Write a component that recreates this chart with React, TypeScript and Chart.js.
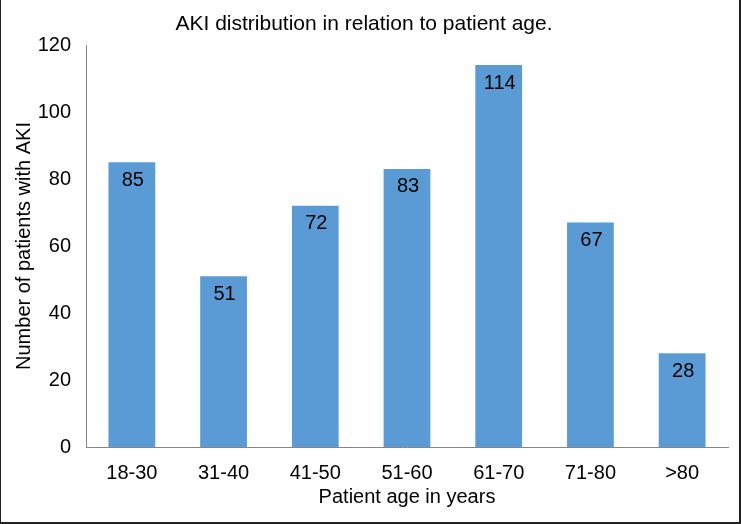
import React, { useEffect, useRef } from "react";
import { Chart, registerables } from "chart.js";

Chart.register(...registerables);

const categories = ["18-30", "31-40", "41-50", "51-60", "61-70", "71-80", ">80"];
const patients = [85, 51, 72, 83, 114, 67, 28];
const yTicks = [0, 20, 40, 60, 80, 100, 120];

const chartTitle = "AKI distribution in relation to patient age.";
const xTitle = "Patient age in years";
const yTitle = "Number of patients with AKI";

const FONT = "'Liberation Sans', Arial, sans-serif";

const barLabels = {
  id: "barLabels",
  afterDatasetsDraw(chart: any) {
    const ctx = chart.ctx;
    const meta = chart.getDatasetMeta(0);
    ctx.save();
    ctx.font = `20px ${FONT}`;
    ctx.fillStyle = "#000";
    ctx.textAlign = "center";
    ctx.textBaseline = "middle";
    meta.data.forEach((bar: any, i: number) => {
      const v = chart.data.datasets[0].data[i];
      ctx.fillText(String(v), bar.x + 1, bar.y + 18);
    });
    ctx.restore();
  },
};

const frame = {
  id: "frame",
  afterDraw(chart: any) {
    const ctx = chart.ctx;
    const w = chart.width;
    const h = chart.height;
    ctx.save();
    ctx.fillStyle = "#222";
    ctx.fillRect(0, 0, 1, h);
    ctx.fillRect(w - 2, 0, 2, h);
    ctx.fillRect(0, h - 2, w, 2);
    ctx.restore();
  },
};

export default function App() {
  const ref = useRef<HTMLCanvasElement>(null);

  useEffect(() => {
    if (!ref.current) return;
    const chart = new Chart(ref.current, {
      type: "bar",
      data: {
        labels: categories,
        datasets: [
          {
            data: patients,
            backgroundColor: "#5b9bd5",
            borderWidth: 0,
            barPercentage: 0.51,
            categoryPercentage: 1,
          },
        ],
      },
      options: {
        responsive: false,
        animation: false,
        devicePixelRatio: 1,
        layout: { padding: { left: 0, right: 13, top: 0, bottom: 0 } },
        plugins: {
          legend: { display: false },
          tooltip: { enabled: false },
          title: {
            display: true,
            text: chartTitle,
            color: "#000",
            font: { family: FONT, size: 21, weight: "normal", lineHeight: 1.2 },
            padding: { top: 12, bottom: 7.8 },
          },
        },
        scales: {
          x: {
            grid: { display: false, drawTicks: false },
            border: { display: true, color: "#868686", width: 1 },
            ticks: {
              color: "#000",
              font: { family: FONT, size: 20 },
              padding: 14,
              maxRotation: 0,
            },
            title: {
              display: true,
              text: xTitle,
              color: "#000",
              font: { family: FONT, size: 20 },
              padding: { top: 0, bottom: 15 },
            },
            afterFit(scale: any) {
              scale.height = 77;
            },
          },
          y: {
            min: 0,
            max: 120,
            grid: { display: false, drawTicks: false },
            border: { display: true, color: "#868686", width: 1 },
            afterBuildTicks(scale: any) {
              scale.ticks = yTicks.map((v) => ({ value: v }));
            },
            ticks: {
              color: "#000",
              font: { family: FONT, size: 20 },
              padding: 15,
            },
            title: {
              display: true,
              text: yTitle,
              color: "#000",
              font: { family: FONT, size: 20 },
              padding: { top: 12, bottom: 0 },
            },
            afterFit(scale: any) {
              scale.width = 86;
            },
          },
        },
      },
      plugins: [barLabels, frame],
    });
    return () => chart.destroy();
  }, []);

  return (
    <div style={{ position: "absolute", left: 0, top: 0, width: 741, height: 524, background: "#fff" }}>
      <canvas ref={ref} width={741} height={524} style={{ width: 741, height: 524, display: "block" }} />
    </div>
  );
}
